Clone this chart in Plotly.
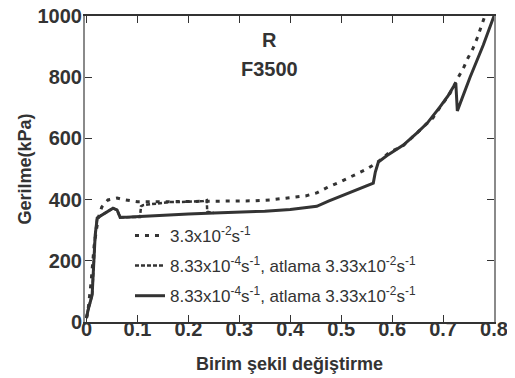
import plotly.graph_objects as go

# Series 1: 3.3x10^-2 s^-1 (dotted)
x1 = [0, 0.003, 0.009, 0.015, 0.023, 0.03, 0.042, 0.06, 0.076, 0.1, 0.15, 0.2, 0.25, 0.3, 0.33,
      0.36, 0.394, 0.43, 0.452, 0.474, 0.498, 0.52, 0.547, 0.563, 0.57, 0.596, 0.62, 0.636, 0.661,
      0.68, 0.697, 0.712, 0.73, 0.74, 0.749, 0.759, 0.767, 0.773, 0.779, 0.782]
y1 = [13, 39, 131, 251, 340, 376, 399, 405, 399, 393, 393, 394, 395, 395, 396,
      399, 405, 412, 422, 441, 458, 475, 497, 513, 520, 556, 574, 598, 637,
      667, 709, 742, 800, 830, 863, 895, 928, 958, 990, 1000]

# Series 2: 8.33x10^-4 s^-1, jump 3.33x10^-2 s^-1 (dense dashes)
x2 = [0, 0.003, 0.011, 0.013, 0.015, 0.017, 0.021, 0.03, 0.04, 0.052, 0.06, 0.066, 0.086, 0.105,
      0.107, 0.111, 0.164, 0.184, 0.229, 0.236, 0.237, 0.25]
y2 = [13, 39, 88, 163, 229, 284, 340, 350, 359, 372, 366, 342, 343, 343,
      378, 382, 392, 392, 395, 398, 360, 356]

# Series 3: 8.33x10^-4 s^-1, jump 3.33x10^-2 s^-1 (solid)
x3 = [0, 0.003, 0.011, 0.013, 0.015, 0.017, 0.021, 0.03, 0.04, 0.052, 0.06, 0.066, 0.086, 0.105,
      0.15, 0.2, 0.25, 0.3, 0.35, 0.4, 0.44, 0.452, 0.475, 0.498, 0.52, 0.538, 0.563, 0.567, 0.573,
      0.59, 0.622, 0.65, 0.669, 0.694, 0.71, 0.72, 0.725, 0.728, 0.753, 0.779, 0.8]
y3 = [13, 39, 88, 163, 229, 284, 340, 350, 359, 372, 366, 342, 343, 345,
      349, 353, 356, 358, 362, 368, 375, 378, 395, 410, 425, 438, 454, 490, 523,
      544, 578, 620, 650, 703, 740, 768, 781, 690, 800, 905, 1000]

names = [
    "3.3x10<sup>-2</sup>s<sup>-1</sup>",
    "8.33x10<sup>-4</sup>s<sup>-1</sup>, atlama 3.33x10<sup>-2</sup>s<sup>-1</sup>",
    "8.33x10<sup>-4</sup>s<sup>-1</sup>, atlama 3.33x10<sup>-2</sup>s<sup>-1</sup>",
]
x_ticks = [0, 0.1, 0.2, 0.3, 0.4, 0.5, 0.6, 0.7, 0.8]
y_ticks = [0, 200, 400, 600, 800, 1000]

C = "#333333"
FONT = "Liberation Sans, Arial, sans-serif"

fig = go.Figure()
fig.add_trace(go.Scatter(x=x1, y=y1, mode="lines", name=names[0], legendgroup="a",
                         line=dict(color=C, width=3, dash="4px,6px")))
fig.add_trace(go.Scatter(x=x2, y=y2, mode="lines", name=names[1], legendgroup="b",
                         line=dict(color=C, width=2.5, dash="4px,2px")))
fig.add_trace(go.Scatter(x=x3, y=y3, mode="lines", name=names[2], legendgroup="c",
                         line=dict(color=C, width=3)))

fig.add_annotation(x=0.36, y=922, text="<b>R</b>", showarrow=False,
                   font=dict(size=20, color=C, family=FONT))
fig.add_annotation(x=0.36, y=827, text="<b>F3500</b>", showarrow=False,
                   font=dict(size=20, color=C, family=FONT))

fig.update_layout(
    width=515, height=378,
    margin=dict(l=77, r=29, t=8, b=64),
    paper_bgcolor="white", plot_bgcolor="white",
    font=dict(family=FONT, color=C),
    showlegend=True,
    legend=dict(x=0.11, y=0.34, xanchor="left", yanchor="top",
                bgcolor="rgba(0,0,0,0)", font=dict(size=17, color=C, family=FONT),
                tracegroupgap=5),
)
fig.update_xaxes(
    range=[-0.003, 0.8], tickvals=x_ticks, ticktext=[("%g" % v) for v in x_ticks],
    ticks="inside", ticklen=7, tickcolor=C, tickwidth=1,
    showline=True, linecolor=C, linewidth=1.5, mirror="ticks",
    showgrid=False, zeroline=False, ticklabelstandoff=-12, automargin="bottom",
    ticklabeloverflow="allow",
    tickfont=dict(size=20, color=C, family=FONT, weight="bold"),
    title=dict(text="<b>Birim şekil değiştirme</b>", font=dict(size=18, color=C), standoff=19),
)
fig.update_yaxes(
    range=[0, 1000], tickvals=y_ticks, ticktext=[str(v) for v in y_ticks],
    ticks="inside", ticklen=7, tickcolor=C, tickwidth=1,
    showline=True, linecolor="#8a8a8a", linewidth=2, mirror="ticks",
    showgrid=False, zeroline=False, automargin="left", ticklabelstandoff=-3,
    ticklabeloverflow="allow",
    tickfont=dict(size=20, color=C, family=FONT, weight="bold"),
    title=dict(text="<b>Gerilme(kPa)</b>", font=dict(size=18, color=C), standoff=1),
)

fig.write_html("out.html")
